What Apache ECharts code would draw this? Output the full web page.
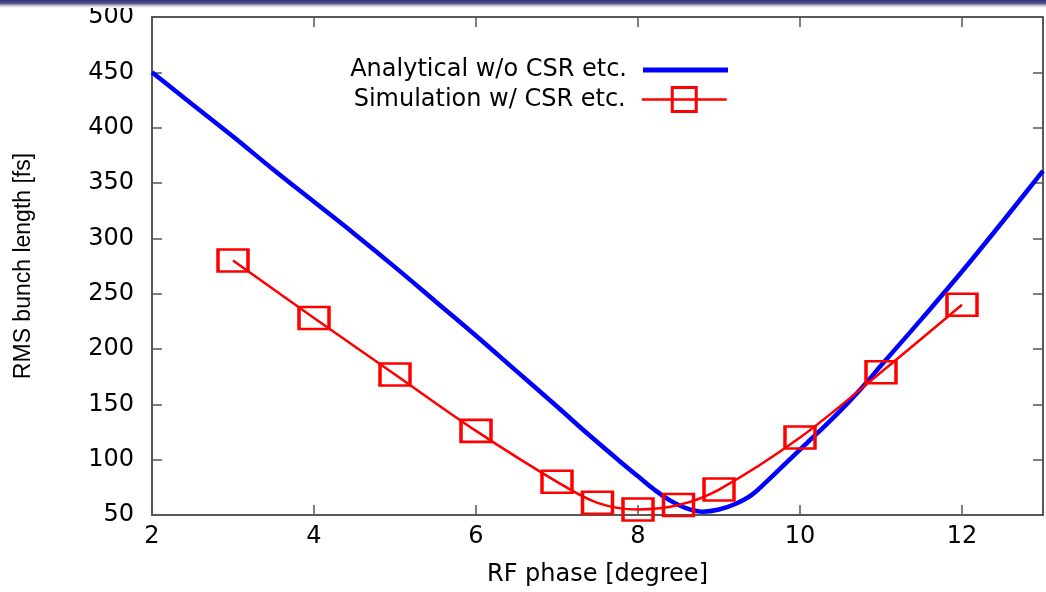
<!DOCTYPE html>
<html>
<head>
<meta charset="utf-8">
<script src="https://cdn.jsdelivr.net/npm/echarts@6/dist/echarts.min.js"></script>
<style>
html,body{margin:0;padding:0;background:#fff;}
#chart{width:1046px;height:592px;}
</style>
</head>
<body>
<div id="chart"></div>
<script>
// Analytical curve (w/o CSR)
const phaseAna = [2, 2.5, 3, 3.5, 4, 4.5, 5, 5.5, 6, 6.5, 7, 7.4, 7.8, 8.0, 8.2, 8.4, 8.6, 8.8, 9.0, 9.2, 9.4, 9.6, 9.8, 10.0, 10.2, 10.4, 10.6, 10.8, 11, 11.5, 12, 12.5, 13];
const lengthAna = [450, 421, 392, 362, 333, 304, 274, 243, 212, 180, 148, 122, 97, 85, 73, 63, 56, 53, 55, 60, 68, 81, 95, 109, 123, 137, 152, 168, 185, 227, 270, 315, 361];
// Simulation (w/ CSR) points
const phaseSim = [3, 4, 5, 6, 7, 7.5, 8, 8.5, 9, 10, 11, 12];
const lengthSim = [280, 228, 177, 126, 80, 61, 55, 59, 73, 120, 179, 240];
// Texts and ticks
const nameAna = 'Analytical w/o CSR etc.';
const nameSim = 'Simulation w/ CSR etc.';
const xTitle = 'RF phase [degree]';
const yTitle = 'RMS bunch length [fs]';
const xLabels = [2, 4, 6, 8, 10, 12];

const zip = (xs, ys) => xs.map((x, i) => [x, ys[i]]);

const chart = echarts.init(document.getElementById('chart'));
const hFont = 'DejaVu Sans';
const axisCommon = {
  type: 'value',
  axisLine: {show: true, onZero: false, lineStyle: {color: '#222', width: 1.5}},
  axisTick: {show: true, inside: true, length: 10, lineStyle: {color: '#555', width: 1.5}},
  splitLine: {show: false}
};
chart.setOption({
  animation: false,
  backgroundColor: '#fff',
  graphic: [{
    type: 'rect', left: 0, top: 0, z: 100,
    shape: {width: 1046, height: 8},
    style: {fill: new echarts.graphic.LinearGradient(0, 0, 0, 1, [
      {offset: 0, color: '#2c2c7c'},
      {offset: 0.45, color: '#5a5a90'},
      {offset: 0.7, color: '#c8c8d0'},
      {offset: 1, color: '#ffffff'}
    ])}
  }],
  grid: {left: 152, right: -7, top: 17, bottom: 75, containLabel: false},
  legend: [{
    data: [nameAna], orient: 'vertical', align: 'right', right: 318, top: 58, padding: 0,
    icon: 'rect', itemWidth: 85, itemHeight: 5,
    textStyle: {fontFamily: hFont, fontSize: 24, color: '#000', padding: [0, 11, 0, 0]}
  }, {
    data: [nameSim], orient: 'vertical', align: 'right', right: 318, top: 86, padding: 0,
    itemWidth: 85, itemHeight: 30,
    itemStyle: {color: 'rgba(255,255,255,0)', borderColor: '#ff0000', borderWidth: 3},
    lineStyle: {color: '#ff0000', width: 2.5},
    textStyle: {fontFamily: hFont, fontSize: 24, color: '#000', padding: [0, 11, 0, 0]}
  }],
  xAxis: [Object.assign({}, axisCommon, {
    position: 'bottom', min: 2, max: 13, interval: 2,
    name: xTitle, nameLocation: 'middle', nameGap: 48,
    nameTextStyle: {fontFamily: hFont, fontSize: 24, color: '#000'},
    axisLabel: {fontFamily: hFont, fontSize: 24, color: '#000', margin: 10,
      formatter: v => (xLabels.indexOf(v) >= 0 ? String(v) : '')}
  }), Object.assign({}, axisCommon, {
    position: 'top', min: 2, max: 13, interval: 2, axisLabel: {show: false}
  })],
  yAxis: [Object.assign({}, axisCommon, {
    position: 'left', min: 50, max: 500, interval: 50,
    name: yTitle, nameLocation: 'middle', nameGap: 117,
    nameTextStyle: {fontFamily: 'Liberation Sans', fontSize: 23, color: '#000'},
    axisLabel: {fontFamily: hFont, fontSize: 24, color: '#000', margin: 18}
  }), Object.assign({}, axisCommon, {
    position: 'right', min: 50, max: 500, interval: 50, axisLabel: {show: false}
  })],
  series: [{
    name: nameAna, type: 'line', data: zip(phaseAna, lengthAna),
    smooth: 0.4, symbol: 'none', showSymbol: false,
    lineStyle: {color: '#0000ff', width: 4.5}, itemStyle: {color: '#0000ff'},
    z: 2
  }, {
    name: nameSim, type: 'line', data: zip(phaseSim, lengthSim),
    smooth: 0.35, symbol: 'rect', symbolSize: [30, 22], showSymbol: true,
    lineStyle: {color: '#ff0000', width: 2.5},
    itemStyle: {color: 'rgba(255,255,255,0)', borderColor: '#ff0000', borderWidth: 3},
    z: 3
  }]
});
</script>
</body>
</html>
